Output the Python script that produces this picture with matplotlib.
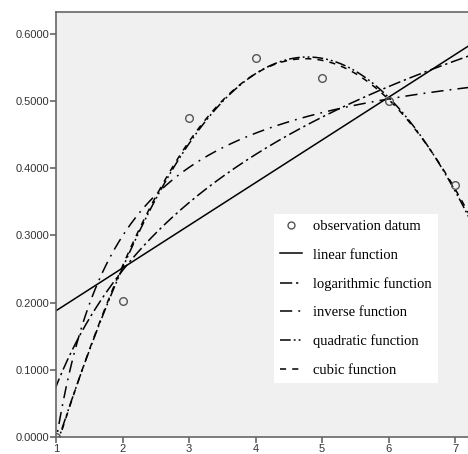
import numpy as np
import matplotlib
matplotlib.use("Agg")
import matplotlib.pyplot as plt
from matplotlib.lines import Line2D
from matplotlib.ticker import FormatStrFormatter

# observation data
obs_x = [1, 2, 3, 4, 5, 6, 7]
obs_y = [0.0, 0.2024, 0.4747, 0.564, 0.534, 0.500, 0.375]
x_ticks = [1, 2, 3, 4, 5, 6, 7]
y_ticks = [0.0, 0.1, 0.2, 0.3, 0.4, 0.5, 0.6]
legend_labels = ["observation datum", "linear function", "logarithmic function",
                 "inverse function", "quadratic function", "cubic function"]

ox = np.array(obs_x, dtype=float)
oy = np.array(obs_y, dtype=float)

# least-squares fits of the observation data (curve estimation)
lin = np.polyfit(ox, oy, 1)
logc = np.polyfit(np.log(ox), oy, 1)
invc = np.polyfit(1.0 / ox, oy, 1)
quad = np.polyfit(ox, oy, 2)
cub = np.polyfit(ox, oy, 3)

fig = plt.figure(figsize=(4.68, 4.54), dpi=100)
ax = fig.add_axes([56 / 468, 1 - 437 / 454, 1 - 56 / 468, 425 / 454])
ax.set_facecolor("#f0f0f0")

xs = np.linspace(0.98, 7.3, 600)
lw = 1.1
ax.plot(xs, np.polyval(lin, xs), color="black", lw=lw, ls="-")
ax.plot(xs, np.polyval(logc, np.log(xs)), color="black", lw=lw, ls=(0, (8, 2.5, 1.5, 2.5)))
ax.plot(xs, np.polyval(invc, 1.0 / xs), color="black", lw=lw, ls=(0, (8, 4, 1.2, 4)))
ax.plot(xs, np.polyval(quad, xs), color="black", lw=lw, ls=(0, (7, 2, 1.2, 2, 1.2, 2)))
ax.plot(xs, np.polyval(cub, xs), color="black", lw=lw, ls=(0, (4, 4)))
ax.plot(ox, oy, ls="none", marker="o", ms=5.5, mfc="none", mec="#555555", mew=1.0)

ax.set_xlim(1, 1 + 412 / 66.5)
ax.set_ylim(0, 425 / 671.7)
ax.set_xticks(x_ticks)
ax.set_yticks(y_ticks)
ax.yaxis.set_major_formatter(FormatStrFormatter("%.4f"))

for s in ["left", "bottom", "top"]:
    ax.spines[s].set_color("#666666")
    ax.spines[s].set_linewidth(1.2)
ax.spines["right"].set_visible(False)
ax.tick_params(axis="both", direction="out", length=4, width=1.2, color="#666666",
               labelcolor="#333333", labelsize=8, pad=1)
for lab in ax.get_xticklabels() + ax.get_yticklabels():
    lab.set_fontfamily("Liberation Sans")

handles = [
    Line2D([], [], ls="none", marker="o", ms=5, mfc="none", mec="#555555", mew=1.0),
    Line2D([], [], color="black", lw=lw, ls="-"),
    Line2D([], [], color="black", lw=lw, ls=(0, (8, 2.5, 1.5, 2.5))),
    Line2D([], [], color="black", lw=lw, ls=(0, (8, 4, 1.2, 4))),
    Line2D([], [], color="black", lw=lw, ls=(0, (7, 2, 1.2, 2, 1.2, 2))),
    Line2D([], [], color="black", lw=lw, ls=(0, (4, 4))),
]
leg = ax.legend(handles, legend_labels, loc="upper left",
                bbox_to_anchor=((274 - 56) / 412, (437 - 214) / 425),
                prop={"family": "Liberation Serif", "size": 10.5},
                frameon=True, fancybox=False, framealpha=1, edgecolor="white",
                facecolor="white", labelspacing=1.05, handlelength=1.5,
                handletextpad=0.8, borderpad=0.4, borderaxespad=0)
leg.get_frame().set_linewidth(0)

fig.savefig("out.png", dpi=100)
